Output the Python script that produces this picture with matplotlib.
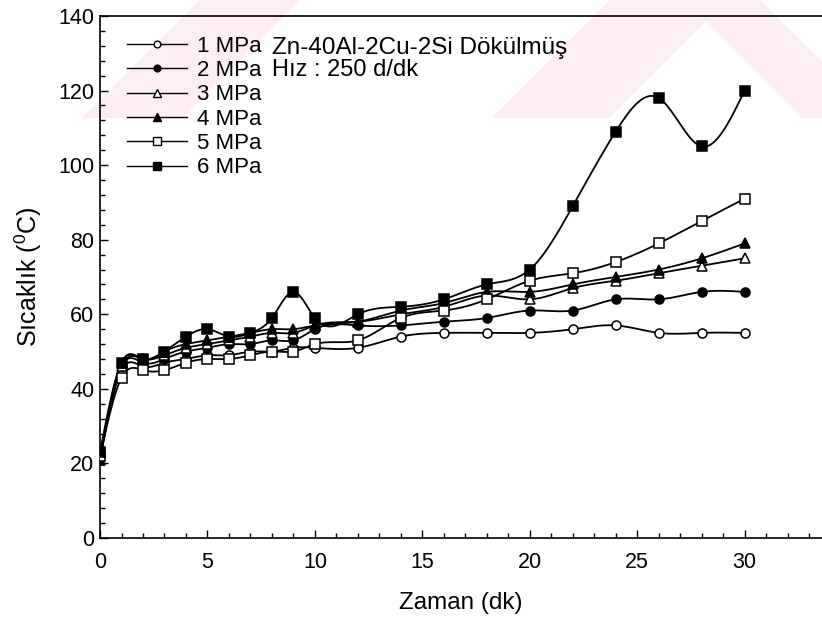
import numpy as np
import matplotlib
matplotlib.use("Agg")
import matplotlib.pyplot as plt
from matplotlib.patches import Polygon
from matplotlib.ticker import MultipleLocator

plt.rcParams['font.family'] = ['Liberation Sans', 'DejaVu Sans']

# time (dk)
zaman = [0, 1, 2, 3, 4, 5, 6, 7, 8, 9, 10, 12, 14, 16, 18, 20, 22, 24, 26, 28, 30]

# temperature (C) per pressure
mpa1 = [22, 45, 46, 47, 48, 49, 49, 50, 50, 51, 51, 51, 54, 55, 55, 55, 56, 57, 55, 55, 55]
mpa2 = [22, 46, 47, 48, 50, 51, 52, 52, 53, 53, 56, 57, 57, 58, 59, 61, 61, 64, 64, 66, 66]
mpa3 = [21, 46, 48, 49, 51, 52, 53, 54, 55, 55, 57, 58, 60, 62, 65, 64, 67, 69, 71, 73, 75]
mpa4 = [21, 47, 48, 50, 52, 53, 54, 55, 56, 56, 57, 58, 61, 63, 66, 66, 68, 70, 72, 75, 79]
mpa5 = [22, 43, 45, 45, 47, 48, 48, 49, 50, 50, 52, 53, 59, 61, 64, 69, 71, 74, 79, 85, 91]
mpa6 = [23, 47, 48, 50, 54, 56, 54, 55, 59, 66, 59, 60, 62, 64, 68, 72, 89, 109, 118, 105, 120]

labels = ["1 MPa", "2 MPa", "3 MPa", "4 MPa", "5 MPa", "6 MPa"]


def natural_spline(x, y, n=600):
    # natural cubic spline, only for drawing the connecting line
    x = np.asarray(x, float)
    y = np.asarray(y, float)
    k = len(x)
    h = np.diff(x)
    A = np.zeros((k, k))
    b = np.zeros(k)
    A[0, 0] = 1
    A[-1, -1] = 1
    for i in range(1, k - 1):
        A[i, i - 1] = h[i - 1]
        A[i, i] = 2 * (h[i - 1] + h[i])
        A[i, i + 1] = h[i]
        b[i] = 6 * ((y[i + 1] - y[i]) / h[i] - (y[i] - y[i - 1]) / h[i - 1])
    M = np.linalg.solve(A, b)
    xs = np.linspace(x[0], x[-1], n)
    idx = np.clip(np.searchsorted(x, xs) - 1, 0, k - 2)
    x0, x1 = x[idx], x[idx + 1]
    hh = x1 - x0
    ys = (M[idx] * (x1 - xs) ** 3 / (6 * hh) + M[idx + 1] * (xs - x0) ** 3 / (6 * hh)
          + (y[idx] / hh - M[idx] * hh / 6) * (x1 - xs)
          + (y[idx + 1] / hh - M[idx + 1] * hh / 6) * (xs - x0))
    return xs, ys


W, H = 822, 621
fig = plt.figure(figsize=(8.22, 6.21), dpi=100)
ax = fig.add_axes([0.1217, 0.1337, 0.8783, 0.8406])
ax.set_facecolor('none')

# faint pink watermark stripes behind the top of the plot (pixel coords)
def stripe(x_top0, x_top1, dx):
    yb = 118
    pts = [(x_top0, 0), (x_top1, 0), (x_top1 + dx, yb), (x_top0 + dx, yb)]
    return Polygon([(px / W, 1 - py / H) for px, py in pts], closed=True,
                   transform=fig.transFigure, facecolor='#fdeef1', edgecolor='none', zorder=-5)

fig.add_artist(stripe(200, 300, -118))
fig.add_artist(stripe(610, 727, -118))
fig.add_artist(stripe(683, 760, 118))

styles = [
    (mpa1, 'o', 'white', 6.5),
    (mpa2, 'o', 'black', 6.5),
    (mpa3, '^', 'white', 7),
    (mpa4, '^', 'black', 7),
    (mpa5, 's', 'white', 7),
    (mpa6, 's', 'black', 7),
]

for (vals, mk, fc, ms), lab in zip(styles, labels):
    xs, ys = natural_spline(zaman, vals)
    ax.plot(xs, ys, color='black', lw=1.3, zorder=2)
    ax.plot(zaman, vals, ls='none', marker=mk, mfc=fc, mec='black', mew=1.1, ms=ms, zorder=3)
    ax.plot([], [], color='black', lw=1.0, marker=mk, mfc=fc, mec='black', ms=ms * 0.75, label=lab)

ax.set_xlim(0, 33.6)
ax.set_ylim(0, 140)
ax.xaxis.set_major_locator(MultipleLocator(5))
ax.xaxis.set_minor_locator(MultipleLocator(1))
ax.yaxis.set_major_locator(MultipleLocator(20))
ax.yaxis.set_minor_locator(MultipleLocator(4))
ax.tick_params(which='both', direction='in', top=False, right=False, labelsize=15.5, width=1.0)
ax.tick_params(which='major', length=6)
ax.tick_params(which='minor', length=3.5)
ax.tick_params(axis='x', which='major', pad=10)
ax.tick_params(axis='y', which='major', pad=4)
ax.spines['right'].set_visible(False)
for s in ['left', 'bottom', 'top']:
    ax.spines[s].set_linewidth(1.2)

ax.set_xlabel("Zaman (dk)", fontsize=17.5, labelpad=14)
ax.set_ylabel("Sıcaklık ($\\mathregular{^0}$C)", fontsize=18, labelpad=10)

ax.legend(loc='upper left', bbox_to_anchor=(0.0374, 0.962), frameon=False, fontsize=16,
          handlelength=2.7, handletextpad=0.45, labelspacing=0.15, borderpad=0, borderaxespad=0)

ax.text(7.98, 131.4, "Zn-40Al-2Cu-2Si Dökülmüş", fontsize=17.5, va='center', ha='left')
ax.text(7.98, 125.4, "Hız : 250 d/dk", fontsize=17, va='center', ha='left')

fig.savefig("out.png", dpi=100)
